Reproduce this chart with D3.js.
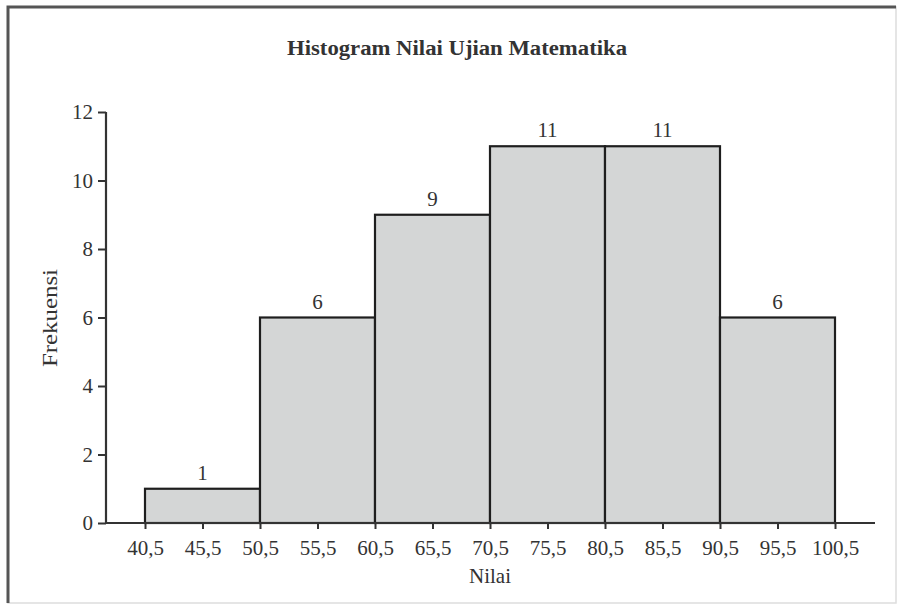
<!DOCTYPE html>
<html>
<head>
<meta charset="utf-8">
<script src="https://cdn.jsdelivr.net/npm/d3@7"></script>
<style>
body{margin:0;background:#fff;}
text{font-family:"Liberation Serif","Times New Roman",serif;fill:#333;}
</style>
</head>
<body>
<svg id="chart" width="901" height="605"></svg>
<script>
// data
var edges=[40.5,50.5,60.5,70.5,80.5,90.5,100.5];
var freq=[1,6,9,11,11,6];
var xTicks=[40.5,45.5,50.5,55.5,60.5,65.5,70.5,75.5,80.5,85.5,90.5,95.5,100.5];
var yTicks=[0,2,4,6,8,10,12];

var svg=d3.select("#chart");

// frame
svg.append("rect").attr("x",8).attr("y",7).attr("width",888).attr("height",596)
  .attr("fill","none").attr("stroke","#ddd").attr("stroke-width",1.5);
svg.append("path").attr("d","M8,603V7H896")
  .attr("fill","none").attr("stroke","#555").attr("stroke-width",3);

var x=d3.scaleLinear().domain([40.5,100.5]).range([145,835]);
var y=d3.scaleLinear().domain([0,12]).range([523,112]);
var fmt=function(d){return String(d).replace(".",",");};

// bars
svg.selectAll(".bar").data(freq).enter().append("rect")
  .attr("class","bar")
  .attr("x",function(d,i){return x(edges[i]);})
  .attr("y",function(d){return y(d);})
  .attr("width",function(d,i){return x(edges[i+1])-x(edges[i]);})
  .attr("height",function(d){return y(0)-y(d);})
  .attr("fill","#d4d6d6").attr("stroke","#1e1e1e").attr("stroke-width",2.2);

svg.selectAll(".lbl").data(freq).enter().append("text")
  .attr("x",function(d,i){return (x(edges[i])+x(edges[i+1]))/2;})
  .attr("y",function(d){return y(d)-9;})
  .attr("text-anchor","middle").attr("font-size",21)
  .text(function(d){return d;});

// x axis
var xAxis=d3.axisBottom(x).tickValues(xTicks).tickFormat(fmt).tickSize(6).tickPadding(11);
var gx=svg.append("g").attr("transform","translate(0,"+y(0)+")").call(xAxis);
gx.select(".domain").attr("d","M106,0H875").attr("stroke","#333").attr("stroke-width",2.2);
gx.selectAll(".tick line").attr("stroke","#333").attr("stroke-width",2);
gx.selectAll(".tick text").attr("font-size",21).attr("font-family","Liberation Serif").attr("fill","#444");

// y axis
var yAxis=d3.axisLeft(y).tickValues(yTicks).tickSize(8).tickPadding(5);
var gy=svg.append("g").attr("transform","translate(106,0)").call(yAxis);
gy.select(".domain").attr("d","M0,"+y(12)+"V"+y(0)).attr("stroke","#333").attr("stroke-width",2.2);
gy.selectAll(".tick line").attr("stroke","#333").attr("stroke-width",2);
gy.selectAll(".tick text").attr("font-size",21).attr("font-family","Liberation Serif").attr("fill","#444");

// titles
svg.append("text").attr("x",457).attr("y",55).attr("text-anchor","middle")
  .attr("font-size",20).attr("font-weight","bold").attr("textLength",340).attr("lengthAdjust","spacingAndGlyphs")
  .text("Histogram Nilai Ujian Matematika");
svg.append("text").attr("x",490).attr("y",583).attr("text-anchor","middle")
  .attr("font-size",21).text("Nilai");
svg.append("text").attr("transform","translate(57,318) rotate(-90)").attr("text-anchor","middle")
  .attr("font-size",21).attr("textLength",98).attr("lengthAdjust","spacingAndGlyphs").text("Frekuensi");
</script>
</body>
</html>
